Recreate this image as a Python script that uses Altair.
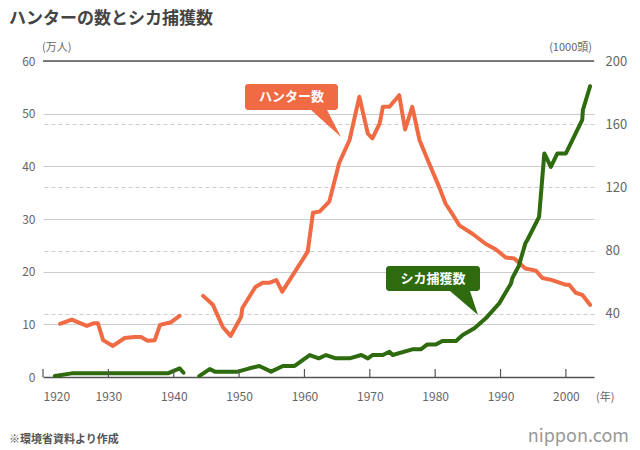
import pandas as pd
import altair as alt

FONT = "Noto Sans CJK JP"
ORANGE = "#f06b43"
GREEN = "#2e6b0e"

# hunters (10,000 people), two periods
hunter_years_a = [1922.6, 1924.4, 1926.7, 1927.7, 1928.4, 1929.2, 1930.7, 1932.5, 1934, 1935, 1936, 1937.1, 1937.9, 1939.6, 1940.9]
hunter_vals_a = [10.1, 10.9, 9.7, 10.2, 10.2, 7.0, 5.9, 7.4, 7.6, 7.6, 6.9, 7.0, 9.9, 10.4, 11.6]
hunter_years_b = [1944.5, 1946, 1947.5, 1948.7, 1950.3, 1950.5, 1952.5, 1953.6, 1954.7, 1955.7, 1956.6, 1960.5, 1961.3, 1962.3,
                  1963.8, 1965.3, 1966.9, 1968.4, 1969.7, 1970.4, 1971.5, 1972, 1973, 1974.5, 1975.4, 1976.5, 1977.6, 1979.1,
                  1980.6, 1981.6, 1982.6, 1983.7, 1985.7, 1987.7, 1989.3, 1990.8, 1992.1, 1993.8, 1995.4, 1996.4, 1997.9,
                  2000, 2000.5, 2001.5, 2002.5, 2003.7]
hunter_vals_b = [15.4, 13.7, 9.5, 7.8, 11.4, 13.1, 17.1, 17.9, 17.9, 18.4, 16.2, 23.8, 31.2, 31.4,
                 33.3, 40.6, 45.0, 53.2, 46.2, 45.3, 48.1, 51.3, 51.3, 53.5, 47.0, 51.3, 45.0, 40.5,
                 36.1, 32.9, 31.0, 28.8, 27.2, 25.3, 24.2, 22.7, 22.5, 20.6, 20.2, 18.8, 18.4,
                 17.5, 17.5, 16.0, 15.6, 13.7]

# deer caught (1000 head), two periods
deer_years_a = [1921.8, 1924.4, 1939.1, 1940.9, 1941.5]
deer_vals_a = [0.6, 2.3, 2.3, 5.5, 2.7]
deer_years_b = [1943.9, 1945.5, 1946.3, 1949.8, 1951.6, 1953.1, 1954.9, 1956.7, 1958.5, 1960.8, 1962.2, 1963.3, 1964.8,
                1966.9, 1968.7, 1969.7, 1970.4, 1972, 1973, 1973.5, 1976.5, 1977.8, 1978.8, 1980.1, 1981.1, 1983.2,
                1984.2, 1986, 1987.7, 1989.8, 1991.6, 1991.8, 1992.8, 1993.8, 1994.1, 1995.9, 1996.7, 1997.7, 1998.7,
                2000, 2002.5, 2002.6, 2003.7]
deer_vals_b = [0.6, 5.0, 3.4, 3.4, 5.5, 7.0, 3.4, 7.0, 7.0, 13.9, 11.8, 13.9, 11.8,
               11.8, 13.9, 11.8, 13.9, 13.9, 16.0, 13.9, 17.5, 17.5, 20.6, 20.6, 22.8, 22.8,
               26.6, 30.8, 37.0, 46.6, 59.2, 62.5, 70.3, 84.6, 86.7, 101.4, 141.5, 133.0, 141.5,
               141.5, 162.7, 169.0, 184.0]

decades = [1920, 1930, 1940, 1950, 1960, 1970, 1980, 1990, 2000]

hunters = pd.DataFrame({
    "year": hunter_years_a + hunter_years_b,
    "value": hunter_vals_a + hunter_vals_b,
    "seg": ["a"] * len(hunter_years_a) + ["b"] * len(hunter_years_b),
})
deer = pd.DataFrame({
    "year": deer_years_a + deer_years_b,
    "value": deer_vals_a + deer_vals_b,
    "seg": ["a"] * len(deer_years_a) + ["b"] * len(deer_years_b),
})

W, H = 551, 316
xscale = alt.Scale(domain=[1920, 2004.3], nice=False, zero=False)

xaxis = alt.Axis(values=decades, format="d", title=None, grid=False, tickSize=0, domainColor="#555",
                 domainWidth=1.5, labelColor="#666", labelFont=FONT, labelFontSize=12, labelPadding=14)
X = alt.X("year:Q", scale=xscale, axis=xaxis)

hunter_line = alt.Chart(hunters).mark_line(color=ORANGE, strokeWidth=4, strokeJoin="round", strokeCap="round").encode(
    x=X,
    y=alt.Y("value:Q", scale=alt.Scale(domain=[0, 60], nice=False),
            axis=alt.Axis(values=[0, 10, 20, 30, 40, 50, 60], title=None, domain=False, ticks=False, grid=True,
                          gridColor="#ccc", labelColor="#666", labelFont=FONT, labelFontSize=12, labelPadding=8)),
    detail="seg:N",
)

deer_line = alt.Chart(deer).mark_line(color=GREEN, strokeWidth=4, strokeJoin="round", strokeCap="round").encode(
    x=X,
    y=alt.Y("value:Q", scale=alt.Scale(domain=[0, 200], nice=False),
            axis=alt.Axis(orient="right", values=[40, 80, 120, 160, 200], title=None, domain=False, ticks=False,
                          grid=True, gridColor="#ccc", gridDash=[4, 3], labelColor="#666", labelFont=FONT,
                          labelFontSize=13, labelPadding=11)),
    detail="seg:N",
)

tick_marks = alt.Chart(pd.DataFrame({"year": decades})).mark_rule(color="#555", strokeWidth=1.2).encode(
    x=X, y=alt.value(H), y2=alt.value(H - 8)
)
top_rule = alt.Chart(pd.DataFrame({"a": [0]})).mark_rule(color="#555", strokeWidth=1.5).encode(
    x=alt.value(0), x2=alt.value(W), y=alt.value(0)
)


def txt(s, x, y, size=12, color="#666", align="left", weight="normal"):
    return alt.Chart(pd.DataFrame({"t": [s]})).mark_text(
        font=FONT, fontSize=size, color=color, align=align, baseline="middle", fontWeight=weight
    ).encode(text="t:N", x=alt.value(x), y=alt.value(y))


def box(x1, x2, y1, y2, color):
    return alt.Chart(pd.DataFrame({"a": [0]})).mark_rect(color=color, cornerRadius=3).encode(
        x=alt.value(x1), x2=alt.value(x2), y=alt.value(y1), y2=alt.value(y2)
    )


def pointer(x, y, path, size, color):
    return alt.Chart(pd.DataFrame({"a": [0]})).mark_point(
        shape=path, size=size, filled=True, color=color, opacity=1, strokeWidth=0
    ).encode(x=alt.value(x), y=alt.value(y))


layers = [
    hunter_line, deer_line, tick_marks, top_rule,
    pointer(283, 62.5, "M-1,-0.9L0.07,-0.9L1,0.9Z", 900, ORANGE),
    box(202, 295, 23, 49, ORANGE),
    txt("ハンター数", 248.5, 36, 13, "white", "center", "bold"),
    pointer(421, 242, "M-1,-0.86L0.43,-0.86L1,0.86Z", 784, GREEN),
    box(343, 437, 205, 230, GREEN),
    txt("シカ捕獲数", 390, 217.5, 13, "white", "center", "bold"),
    txt("ハンターの数とシカ捕獲数", -34, -42, 17, "#444", "left", "bold"),
    txt("(万人)", -1, -13, 11),
    txt("(1000頭)", 549, -13, 11, align="right"),
    txt("(年)", 553, 337, 11),
    txt("※環境省資料より作成", -34, 379, 11, "#555", "left", "bold"),
    txt("nippon.com", 586, 376, 18, "#999", "right"),
]

chart = alt.layer(*layers).resolve_scale(y="independent").properties(
    width=W, height=H,
    autosize=alt.AutoSizeParams(type="none"),
    padding={"left": 35, "top": 53, "right": 38, "bottom": 70},
).configure_view(stroke=None)

chart.save("out.html", embed_options={"renderer": "svg", "actions": False})
